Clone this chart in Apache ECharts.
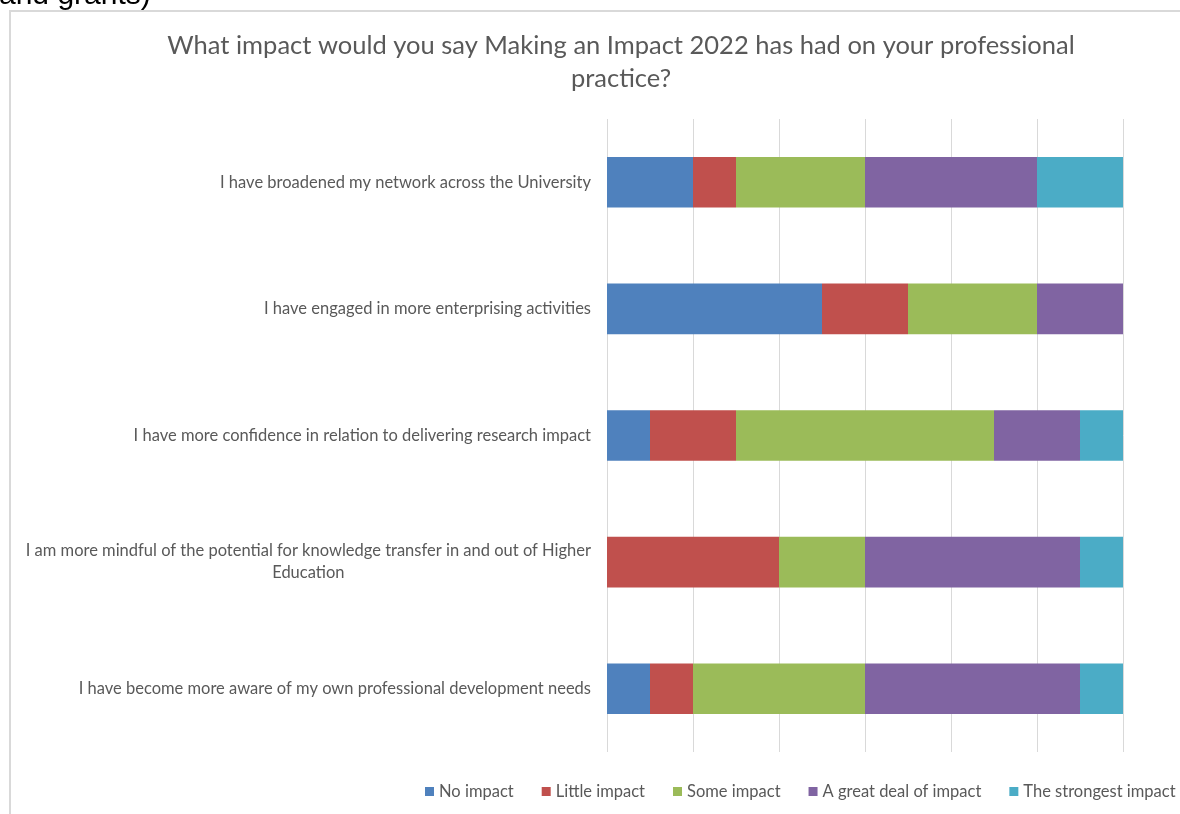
<!DOCTYPE html>
<html>
<head>
<meta charset="utf-8">
<script src="https://cdn.jsdelivr.net/npm/echarts@6/dist/echarts.min.js"></script>
<style>
html,body{margin:0;padding:0;background:#fff;}
#chart{width:1180px;height:814px;}
</style>
</head>
<body>
<div id="chart"></div>
<script>
var titleText = 'What impact would you say Making an Impact 2022 has had on your professional\npractice?';
var categories = [
  'I have broadened my network across the University',
  'I have engaged in more enterprising activities',
  'I have more confidence in relation to delivering research impact',
  'I am more mindful of the potential for knowledge transfer in and out of Higher Education',
  'I have become more aware of my own professional development needs'
];
var seriesNames = ['No impact', 'Little impact', 'Some impact', 'A great deal of impact', 'The strongest impact'];
var noImpact = [2, 5, 1, 0, 1];
var littleImpact = [1, 2, 2, 4, 1];
var someImpact = [3, 3, 6, 2, 4];
var greatDeal = [4, 2, 2, 5, 5];
var strongest = [2, 0, 1, 1, 1];
var colors = ['#4F81BD', '#C0504D', '#9BBB59', '#8064A2', '#4BACC6'];
var seriesData = [noImpact, littleImpact, someImpact, greatDeal, strongest];

function wrapLabel(s) {
  var words = s.split(' '), lines = [], cur = '';
  words.forEach(function (w) {
    if ((cur + ' ' + w).trim().length > 80) { lines.push(cur); cur = w; }
    else { cur = (cur + ' ' + w).trim(); }
  });
  if (cur) lines.push(cur);
  return lines.map(function (l) { return '{c|' + l + '}'; }).join('\n');
}

var chart = echarts.init(document.getElementById('chart'));
var font = 'Lato';
chart.setOption({
  animation: false,
  backgroundColor: '#fff',
  title: {
    text: titleText,
    left: 616,
    textAlign: 'center',
    top: 24,
    textStyle: { fontFamily: font, fontSize: 25.5, fontWeight: 'normal', color: '#595959', lineHeight: 33 }
  },
  graphic: [
    { type: 'rect', shape: { x: 10, y: 11, width: 1300, height: 900 }, style: { fill: 'none', stroke: '#d9d9d9', lineWidth: 2 }, silent: true },
    { type: 'text', x: 0, y: 0, style: { x: -1, y: -4, text: 'and grants)', font: '30px "Liberation Sans"', fill: '#000', verticalAlign: 'middle' }, silent: true }
  ],
  legend: {
    left: 425,
    top: 783,
    width: 760,
    padding: 0,
    icon: 'rect',
    itemWidth: 9,
    itemHeight: 9,
    itemGap: 28,
    textStyle: { fontFamily: font, fontSize: 16.5, color: '#595959' },
    data: seriesNames
  },
  grid: { left: 607, top: 119, width: 516, height: 633, containLabel: false },
  xAxis: {
    type: 'value', min: 0, max: 12, interval: 2,
    axisLabel: { show: false }, axisLine: { show: false }, axisTick: { show: false },
    splitLine: { show: true, lineStyle: { color: '#d9d9d9', width: 1 } }
  },
  yAxis: {
    type: 'category', inverse: true, data: categories,
    axisLine: { show: false }, axisTick: { show: false },
    axisLabel: {
      margin: 16, color: '#595959', fontFamily: font, fontSize: 16.5, lineHeight: 22,
      formatter: wrapLabel,
      rich: { c: { align: 'center', color: '#595959', fontFamily: font, fontSize: 16.5, lineHeight: 22 } }
    }
  },
  series: seriesNames.map(function (n, i) {
    return { name: n, type: 'bar', stack: 'total', barWidth: '40%', data: seriesData[i], itemStyle: { color: colors[i] } };
  })
});
</script>
</body>
</html>
